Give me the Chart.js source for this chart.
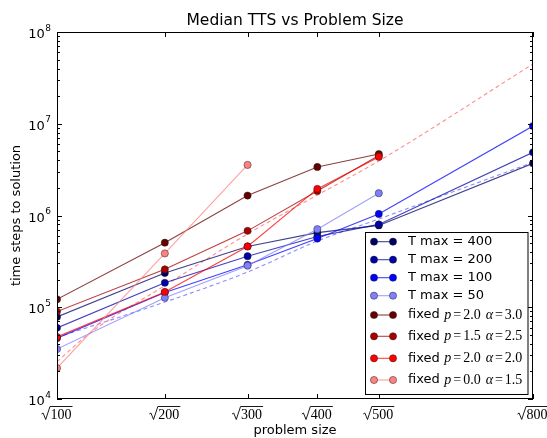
<!DOCTYPE html>
<html><head><meta charset="utf-8">
<script src="https://cdn.jsdelivr.net/npm/chart.js@4"></script>
<style>html,body{margin:0;padding:0;background:#fff;}canvas{display:block;}</style>
</head><body>
<canvas id="c" width="547" height="438"></canvas>
<script>
// ---- data ----
const sizes = [100, 200, 300, 400, 500, 800];
const tmax400 = [7.85e4, 2.36e5, 4.6e5, 6.5e5, 7.8e5, 3.7e6];
const tmax200 = [5.96e4, 1.85e5, 3.6e5, 5.9e5, 8.0e5, 4.88e6];
const tmax100 = [4.6e4, 1.45e5, 2.9e5, 5.6e5, 1.04e6, 9.45e6];
const tmax50  = [3.5e4, 1.27e5, 2.84e5, 7.1e5, 1.75e6, null];
const fixed30 = [1.22e5, 5.05e5, 1.65e6, 3.38e6, 4.68e6, null];
const fixed25 = [8.98e4, 2.59e5, 6.8e5, 1.85e6, 4.5e6, null];
const fixed20 = [4.75e4, 1.47e5, 4.6e5, 1.95e6, 4.35e6, null];
const fixed15 = [2.17e4, 3.86e5, 3.56e6, null, null, null];
const fitRedSizes  = [100, 127, 200, 300, 400, 500, 800];
const fitRedValues = [2.55e4, 5.24e4, 1.72e5, 6.29e5, 1.67e6, 3.93e6, 4.48e7];
const fitBlueSizes  = [100, 200, 300, 400, 500, 800];
const fitBlueValues = [4.7e4, 1.14e5, 2.42e5, 5.27e5, 9.16e5, 3.8e6];
const xTickLabels = ['100', '200', '300', '400', '500', '800'];
const yTickExponents = [4, 5, 6, 7, 8];
const tmaxLabels = ['T max = 400', 'T max = 200', 'T max = 100', 'T max = 50'];
const fixedP = ['2.0', '1.5', '2.0', '0.0'];
const fixedAlpha = ['3.0', '2.5', '2.0', '1.5'];
const titleText = 'Median TTS vs Problem Size';
const xTitle = 'problem size';
const yTitle = 'time steps to solution';

// ---- styling ----
const colors = ['#000066', '#0000aa', '#0000ff', '#8080ff', '#660000', '#aa0000', '#ff0000', '#ff8080'];
const seriesValues = [tmax400, tmax200, tmax100, tmax50, fixed30, fixed25, fixed20, fixed15];

function rgba(hex, a) {
  const n = parseInt(hex.slice(1), 16);
  return `rgba(${(n >> 16) & 255},${(n >> 8) & 255},${n & 255},${a})`;
}
function toPoints(xsN, vals) {
  const out = [];
  xsN.forEach((n, i) => { if (vals[i] != null) out.push({ x: Math.sqrt(n), y: vals[i] }); });
  return out;
}

const datasets = seriesValues.map((vals, i) => ({
  data: toPoints(sizes, vals),
  borderColor: rgba(colors[i], 0.75),
  backgroundColor: colors[i],
  pointBackgroundColor: colors[i],
  pointBorderColor: 'rgba(30,30,30,0.8)',
  pointBorderWidth: 0.6,
  pointRadius: 3.6,
  borderWidth: 1.1,
  tension: 0,
  order: 10 - i
}));
datasets.push({
  data: toPoints(fitRedSizes, fitRedValues),
  borderColor: rgba('#ff8080', 0.9), borderWidth: 1.1, borderDash: [4, 3],
  pointRadius: 0, cubicInterpolationMode: 'monotone', order: 50
});
datasets.push({
  data: toPoints(fitBlueSizes, fitBlueValues),
  borderColor: rgba('#8080ff', 0.9), borderWidth: 1.1, borderDash: [4, 3],
  pointRadius: 0, cubicInterpolationMode: 'monotone', order: 51
});

const FONT = '"DejaVu Sans", sans-serif';
const SERIF = '"Liberation Serif", "DejaVu Serif", serif';

function drawMarker(ctx, x, y, c) {
  ctx.beginPath();
  ctx.arc(x, y, 3.6, 0, Math.PI * 2);
  ctx.fillStyle = c; ctx.fill();
  ctx.lineWidth = 0.6; ctx.strokeStyle = 'rgba(30,30,30,0.8)'; ctx.stroke();
}

const decor = {
  id: 'decor',
  afterDraw(chart) {
    const ctx = chart.ctx, a = chart.chartArea, xs = chart.scales.x, ys = chart.scales.y;
    ctx.save();
    // spines
    ctx.strokeStyle = '#000'; ctx.lineWidth = 1;
    ctx.strokeRect(a.left + 0.5, a.top + 0.5, a.right - a.left - 1, a.bottom - a.top - 1);
    // ticks
    ctx.beginPath();
    sizes.forEach(n => {
      const px = Math.round(xs.getPixelForValue(Math.sqrt(n))) + 0.5;
      ctx.moveTo(px, a.bottom); ctx.lineTo(px, a.bottom - 5);
      ctx.moveTo(px, a.top); ctx.lineTo(px, a.top + 5);
    });
    for (let e = yTickExponents[0]; e <= yTickExponents[yTickExponents.length - 1]; e++) {
      for (let m = 1; m < 10; m++) {
        if (e === yTickExponents[yTickExponents.length - 1] && m > 1) break;
        const py = Math.round(ys.getPixelForValue(m * Math.pow(10, e))) + 0.5;
        const len = m === 1 ? 5 : 3;
        ctx.moveTo(a.left, py); ctx.lineTo(a.left + len, py);
        ctx.moveTo(a.right, py); ctx.lineTo(a.right - len, py);
      }
    }
    ctx.stroke();

    ctx.fillStyle = '#000';
    // y tick labels
    yTickExponents.forEach(e => {
      const py = ys.getPixelForValue(Math.pow(10, e));
      ctx.font = '9px ' + FONT;
      const sup = String(e);
      const sw = ctx.measureText(sup).width;
      ctx.textAlign = 'right'; ctx.textBaseline = 'alphabetic';
      ctx.fillText(sup, 51, py - 1.5);
      ctx.font = '13px ' + FONT;
      ctx.fillText('10', 51 - sw - 0.5, py + 6);
    });
    // x tick labels with radical
    sizes.forEach((n, i) => {
      const px = xs.getPixelForValue(Math.sqrt(n));
      ctx.font = '14px ' + SERIF;
      const t = xTickLabels[i];
      const tw = ctx.measureText(t).width;
      const rw = 9;
      const total = rw + tw + 1;
      const x0 = px - total / 2;
      const top = 406.5, base = 419;
      ctx.beginPath();
      ctx.lineWidth = 0.9; ctx.strokeStyle = '#000';
      ctx.moveTo(x0, base - 5); ctx.lineTo(x0 + 1.6, base - 6);
      ctx.lineTo(x0 + 4.2, base + 0.5);
      ctx.lineTo(x0 + 8.5, top);
      ctx.lineTo(x0 + total, top);
      ctx.stroke();
      ctx.textAlign = 'left'; ctx.textBaseline = 'alphabetic';
      ctx.fillText(t, x0 + rw, base);
    });
    // axis titles
    ctx.font = '13px ' + FONT;
    ctx.textAlign = 'center'; ctx.textBaseline = 'alphabetic';
    ctx.fillText(xTitle, (a.left + a.right) / 2, 434);
    ctx.save();
    ctx.translate(17, (a.top + a.bottom) / 2);
    ctx.rotate(-Math.PI / 2);
    ctx.textBaseline = 'middle';
    ctx.fillText(yTitle, 0, 0);
    ctx.restore();
    // title
    ctx.font = '15.5px ' + FONT;
    ctx.textAlign = 'center'; ctx.textBaseline = 'alphabetic';
    ctx.fillText(titleText, (a.left + a.right) / 2, 25);

    // legend
    const lx = 365.5, ly = 232.5, lw = 162.5, lh = 162;
    ctx.fillStyle = '#fff';
    ctx.fillRect(lx, ly, lw, lh);
    ctx.strokeStyle = '#000'; ctx.lineWidth = 1;
    ctx.strokeRect(lx, ly, lw, lh);
    const rowsY = [241.7, 259.7, 277.7, 295.7, 315, 336.3, 358.3, 380];
    for (let i = 0; i < 8; i++) {
      const y = rowsY[i];
      ctx.beginPath();
      ctx.strokeStyle = rgba(colors[i], 0.75); ctx.lineWidth = 1.1;
      ctx.moveTo(374, y); ctx.lineTo(393, y); ctx.stroke();
      drawMarker(ctx, 374, y, colors[i]);
      drawMarker(ctx, 393, y, colors[i]);
      ctx.fillStyle = '#000';
      ctx.textAlign = 'left'; ctx.textBaseline = 'middle';
      let x = 408;
      if (i < 4) {
        ctx.font = '13px ' + FONT;
        ctx.fillText(tmaxLabels[i], x, y);
      } else {
        const k = i - 4;
        ctx.font = '13px ' + FONT;
        ctx.fillText('fixed', x, y);
        x += ctx.measureText('fixed').width + 4.5;
        const parts = [
          ['italic 14px ' + SERIF, 'p', 2], ['14px ' + SERIF, '=', 2], ['14px ' + SERIF, fixedP[k], 5],
          ['italic 14px ' + SERIF, 'α', 2], ['14px ' + SERIF, '=', 2], ['14px ' + SERIF, fixedAlpha[k], 0]
        ];
        parts.forEach(p => {
          ctx.font = p[0];
          ctx.fillText(p[1], x, y + 0.5);
          x += ctx.measureText(p[1]).width + p[2];
        });
      }
    }
    ctx.restore();
  }
};

new Chart(document.getElementById('c'), {
  type: 'line',
  data: { datasets },
  options: {
    responsive: false,
    animation: false,
    devicePixelRatio: 1,
    layout: { padding: { left: 57, right: 14, top: 32, bottom: 39 } },
    plugins: { legend: { display: false }, title: { display: false }, tooltip: { enabled: false } },
    scales: {
      x: { type: 'linear', display: false, min: Math.sqrt(sizes[0]), max: Math.sqrt(sizes[sizes.length - 1]) },
      y: { type: 'logarithmic', display: false, min: Math.pow(10, yTickExponents[0]), max: Math.pow(10, yTickExponents[yTickExponents.length - 1]) }
    }
  },
  plugins: [decor]
});
</script>
</body></html>
